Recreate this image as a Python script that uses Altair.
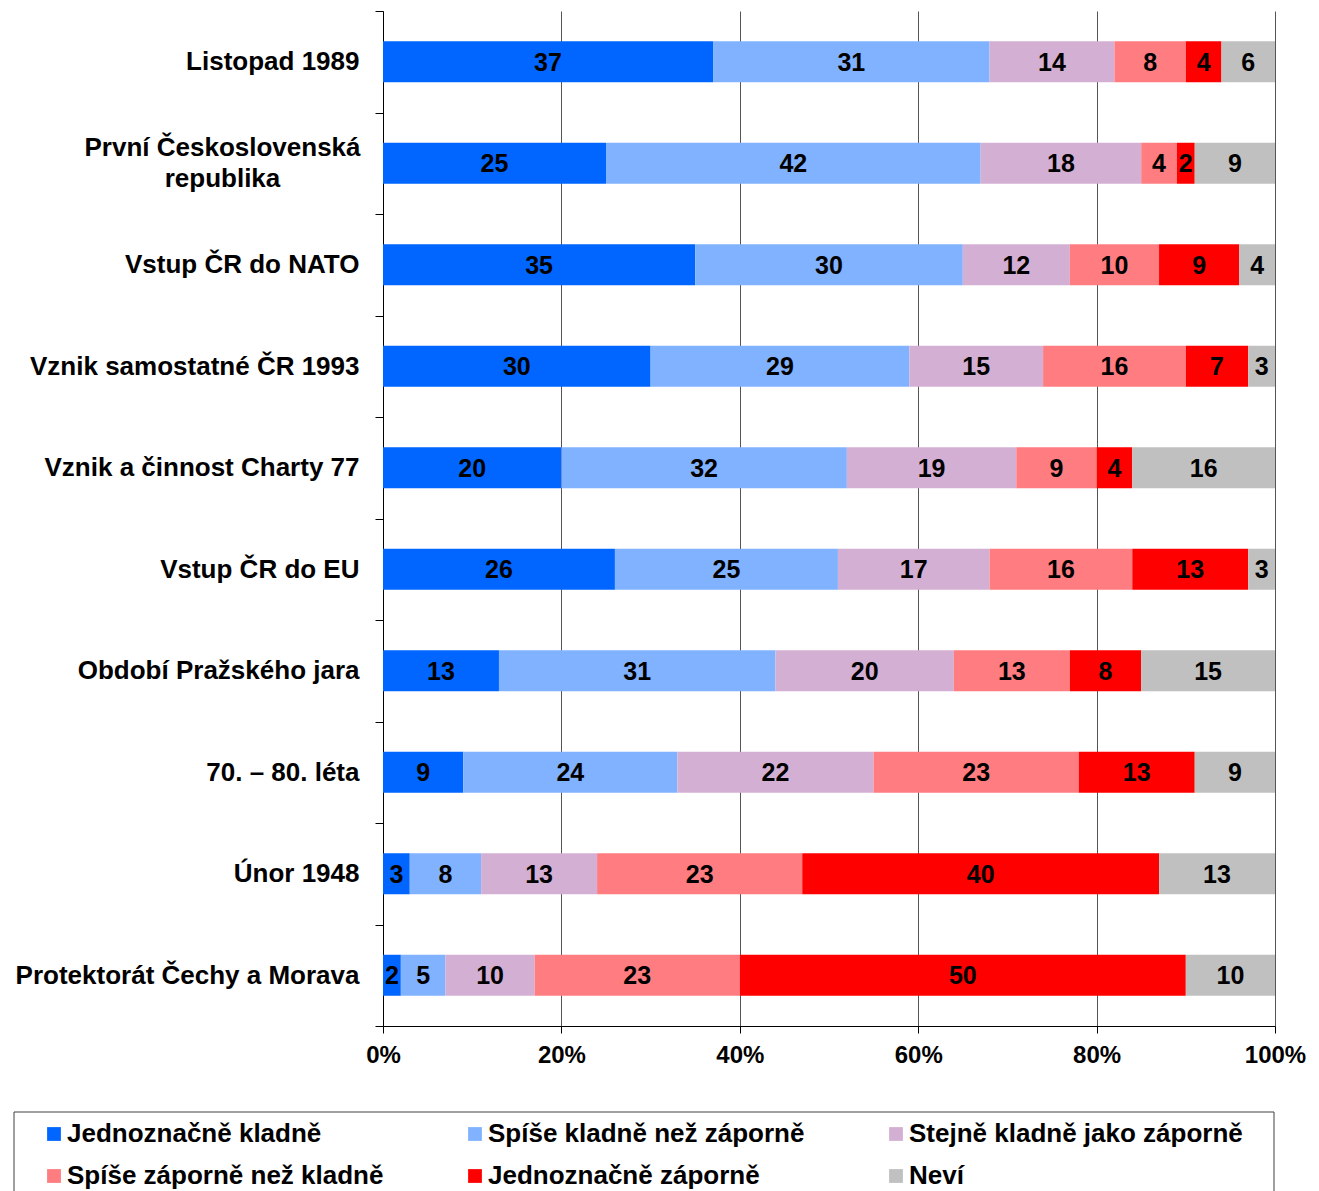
import altair as alt
import pandas as pd

categories = [
    "Listopad 1989",
    "První Československá\nrepublika",
    "Vstup ČR do NATO",
    "Vznik samostatné ČR 1993",
    "Vznik a činnost Charty 77",
    "Vstup ČR do EU",
    "Období Pražského jara",
    "70. – 80. léta",
    "Únor 1948",
    "Protektorát Čechy a Morava",
]

series = [
    "Jednoznačně kladně",
    "Spíše kladně než záporně",
    "Stejně kladně jako záporně",
    "Spíše záporně než kladně",
    "Jednoznačně záporně",
    "Neví",
]

colors = ["#0066FF", "#80B2FF", "#D4AFD4", "#FF7C80", "#FF0000", "#C0C0C0"]

jednoznacne_kladne = [37, 25, 35, 30, 20, 26, 13, 9, 3, 2]
spise_kladne = [31, 42, 30, 29, 32, 25, 31, 24, 8, 5]
stejne = [14, 18, 12, 15, 19, 17, 20, 22, 13, 10]
spise_zaporne = [8, 4, 10, 16, 9, 16, 13, 23, 23, 23]
jednoznacne_zaporne = [4, 2, 9, 7, 4, 13, 8, 13, 40, 50]
nevi = [6, 9, 4, 3, 16, 3, 15, 9, 13, 10]

x_ticks = [0, 20, 40, 60, 80, 100]

all_values = [jednoznacne_kladne, spise_kladne, stejne, spise_zaporne,
              jednoznacne_zaporne, nevi]

rows = []
for si, (s, vals) in enumerate(zip(series, all_values)):
    for c, v in zip(categories, vals):
        rows.append({"cat": c, "series": s, "order": si, "value": v})
df = pd.DataFrame(rows)

FONT = "Liberation Sans"
MULTI = "indexof(datum.label, '\\n') >= 0"

base = alt.Chart(df).transform_stack(
    stack="value", groupby=["cat"], sort=[alt.SortField("order")], as_=["x0", "x1"]
).transform_calculate(mid="(datum.x0 + datum.x1) / 2")

y_enc = alt.Y(
    "cat:N",
    sort=categories,
    scale=alt.Scale(paddingInner=0, paddingOuter=0),
    axis=alt.Axis(
        title=None,
        labelExpr="split(datum.label, '\\n')",
        labelFont=FONT,
        labelFontSize=26,
        labelFontWeight="bold",
        labelColor="black",
        labelLineHeight=31,
        labelPadding={"condition": {"test": MULTI, "value": 153}, "value": 16},
        labelAlign={"condition": {"test": MULTI, "value": "center"}, "value": "right"},
        labelLimit=400,
        labelOffset={"condition": {"test": MULTI, "value": -15.5}, "value": 0},
        tickSize=8,
        tickColor="black",
        tickBand="extent",
        domainColor="black",
        grid=False,
    ),
)

x_scale = alt.Scale(domain=[0, 100], nice=False)

bars = base.mark_bar(size=41).encode(
    x=alt.X(
        "x0:Q",
        scale=x_scale,
        axis=alt.Axis(
            title=None,
            values=x_ticks,
            labelExpr="datum.value + '%'",
            labelFont=FONT,
            labelFontSize=24,
            labelFontWeight="bold",
            labelColor="black",
            labelFlush=False,
            labelPadding=10,
            tickSize=7,
            tickColor="black",
            domainColor="black",
            grid=True,
            gridColor="#555555",
            gridWidth=1,
        ),
    ),
    x2="x1:Q",
    y=y_enc,
    color=alt.Color(
        "series:N",
        scale=alt.Scale(domain=series, range=colors),
        sort=series,
        legend=alt.Legend(
            title=None,
            orient="none",
            direction="horizontal",
            legendX=-342,
            legendY=1110,
            columns=3,
            gridAlign="all",
            columnPadding=61,
            rowPadding=16,
            symbolType="square",
            symbolSize=190,
            symbolStrokeWidth=0,
            labelOffset=0,
            labelFont=FONT,
            labelFontSize=26,
            labelFontWeight="bold",
            labelColor="black",
            labelLimit=500,
            padding=0,
        ),
    ),
)

texts = base.mark_text(
    font=FONT, fontSize=25, fontWeight="bold", color="black", baseline="middle", dy=1
).encode(
    x=alt.X("mid:Q", scale=x_scale),
    y=alt.Y("cat:N", sort=categories),
    text="value:Q",
)

frame = alt.Chart(pd.DataFrame({"a": [0]})).mark_rect(
    fill="transparent", stroke="#404040", strokeWidth=1
).encode(
    x=alt.value(-369), x2=alt.value(891), y=alt.value(1101), y2=alt.value(1300)
)

chart = alt.layer(bars, texts, frame).properties(
    width=892,
    height=1015,
    padding={"left": 375, "top": 3, "right": 36, "bottom": 165},
    autosize=alt.AutoSizeParams(type="none"),
).configure_view(stroke=None)

chart.save("out.html", embed_options={"renderer": "svg", "actions": False})
